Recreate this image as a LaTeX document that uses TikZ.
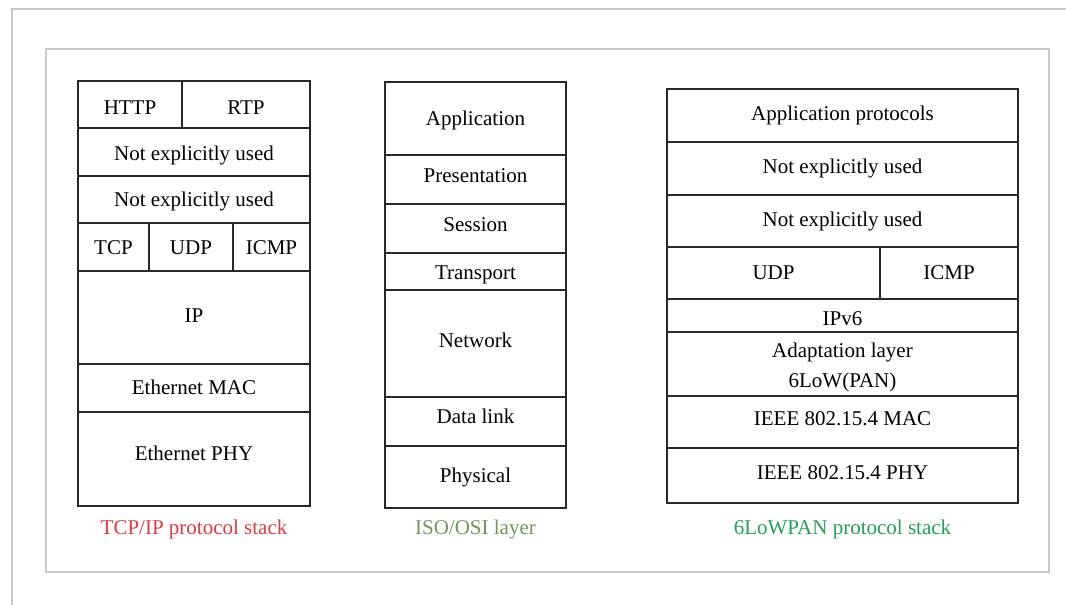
\documentclass[tikz,border=0pt]{standalone}
\usepackage{fontspec}
\setmainfont{Liberation Serif}
\definecolor{framegray}{RGB}{200,200,200}
\definecolor{cellline}{RGB}{40,40,40}
\definecolor{tcpred}{RGB}{218,60,70}
\definecolor{osigreen}{RGB}{115,150,90}
\definecolor{lowgreen}{RGB}{35,160,90}
% one layer cell: [text drop], name, x1, y1, x2, y2, text
\newcommand\layercell[7][0]{%
  \node[cell, minimum width={(#5-#3)*1pt}, minimum height={(#6-#4)*1pt}]
    (#2) at ({(#3+#5)/2},{(#4+#6)/2}) {\raisebox{-#1pt}[\height][\depth]{#7}};}
\begin{document}
\begin{tikzpicture}[x=1pt,y=-1pt,
  cell/.style={draw=cellline, line width=1.6pt, rectangle, inner sep=0pt,
    outer sep=0pt, align=center, font=\fontsize{21}{30}\selectfont},
  caption/.style={inner sep=0pt, font=\fontsize{21}{25}\selectfont},
  frame/.style={draw=framegray, line width=1.3pt}]
\useasboundingbox[fill=white] (0,0) rectangle (1066,605);

% window edge and panel frame
\coordinate (wtl) at (12,9);
\coordinate (wtr) at (1066,9);
\coordinate (wbl) at (12,605);
\draw[frame] (wbl) -- (wtl) -- (wtr);
\node[frame, rectangle, minimum width=1003pt, minimum height=523pt, inner sep=0pt]
  (panel) at (547.5,310.5) {};

% TCP/IP protocol stack
\layercell[3]{http}{78}{81}{182}{128}{HTTP}
\layercell[3]{rtp}{182}{81}{310}{128}{RTP}
\layercell[3]{tneu1}{78}{128}{310}{176}{Not explicitly used}
\layercell[2]{tneu2}{78}{176}{310}{223}{Not explicitly used}
\layercell[1]{tcp}{78}{223}{149}{271}{TCP}
\layercell[1]{tudp}{149}{223}{233}{271}{UDP}
\layercell[1]{ticmp}{233}{223}{310}{271}{ICMP}
\layercell[-2]{ip}{78}{271}{310}{364}{IP}
\layercell[-1]{emac}{78}{364}{310}{412}{Ethernet MAC}
\layercell[-6]{ephy}{78}{412}{310}{506}{Ethernet PHY}
\node[caption, text=tcpred] (tcpcap) at (194,529) {TCP/IP protocol stack};

% ISO/OSI layers
\layercell[2]{app}{385}{82}{566}{155}{Application}
\layercell[-4]{pres}{385}{155}{566}{204}{Presentation}
\layercell[-4]{sess}{385}{204}{566}{253}{Session}
\layercell[3]{trans}{385}{253}{566}{290}{Transport}
\layercell[-3]{net}{385}{290}{566}{397}{Network}
\layercell[-5]{dlink}{385}{397}{566}{446}{Data link}
\layercell{phys}{385}{446}{566}{508}{Physical}
\node[caption, text=osigreen] (osicap) at (475.5,529) {ISO/OSI layer};

% 6LoWPAN protocol stack
\layercell{lapp}{667}{89}{1018}{142}{Application protocols}
\layercell{lneu1}{667}{142}{1018}{195}{Not explicitly used}
\layercell{lneu2}{667}{195}{1018}{247}{Not explicitly used}
\layercell{ludp}{667}{247}{880}{299}{UDP}
\layercell{licmp}{880}{247}{1018}{299}{ICMP}
\layercell[3]{ipv6}{667}{299}{1018}{332}{IPv6}
\layercell[2]{adapt}{667}{332}{1018}{396}{\begin{tabular}{@{}c@{}}Adaptation layer\\6LoW(PAN)\end{tabular}}
\layercell[-3]{lmac}{667}{396}{1018}{448}{IEEE 802.15.4 MAC}
\layercell[-3]{lphy}{667}{448}{1018}{503}{IEEE 802.15.4 PHY}
\node[caption, text=lowgreen] (lowcap) at (842.5,529) {6LoWPAN protocol stack};
\end{tikzpicture}
\end{document}
